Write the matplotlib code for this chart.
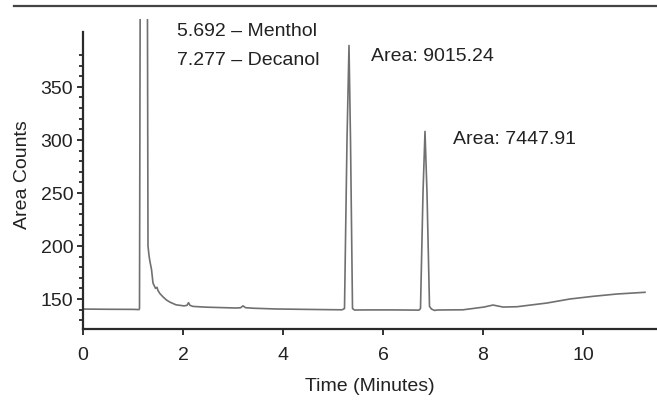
#!/usr/bin/env python3
import matplotlib
matplotlib.use('Agg')
import matplotlib.pyplot as plt
from matplotlib.lines import Line2D
from matplotlib.ticker import FixedLocator

# chromatogram trace (minutes, area counts)
time_min = [0.0, 0.5, 1.0, 1.12, 1.13, 1.17, 1.26, 1.30, 1.32, 1.34, 1.37,
            1.40, 1.45, 1.48, 1.50, 1.54, 1.60, 1.67, 1.74, 1.86, 2.02,
            2.08, 2.11, 2.14, 2.20, 2.45, 2.68, 3.05, 3.15, 3.20, 3.25,
            3.40, 3.84, 4.30, 4.80, 5.18, 5.23, 5.28, 5.32, 5.35, 5.39,
            5.43, 5.70, 6.20, 6.72, 6.75, 6.80, 6.84, 6.88, 6.93, 6.97,
            7.03, 7.08, 7.30, 7.60, 8.02, 8.20, 8.40, 8.68, 9.28, 9.74,
            10.20, 10.68, 11.24]
counts = [140.5, 140.3, 140.2, 140.0, 141.0, 1000.0, 1000.0, 200.0, 191.0, 185.0, 178.0,
          165.0, 160.0, 161.0, 158.0, 155.0, 152.0, 149.0, 147.0, 144.5, 143.5,
          144.0, 146.5, 144.0, 143.0, 142.3, 142.0, 141.5, 141.7, 143.5, 141.8,
          141.3, 140.6, 140.3, 140.0, 139.8, 141.0, 300.0, 389.0, 300.0, 141.0,
          139.6, 139.7, 139.7, 139.5, 141.0, 250.0, 308.0, 250.0, 143.0, 140.5,
          139.2, 139.6, 139.7, 139.8, 142.4, 144.3, 142.4, 142.7, 146.2, 150.0,
          152.5, 154.7, 156.3]

peak_labels = ['5.692 \u2013 Menthol', '7.277 \u2013 Decanol']
peak_label_pos = [(1.88, 403), (1.88, 375.5)]
area_labels = ['Area: 9015.24', 'Area: 7447.91']
area_pos = [(5.76, 380), (7.40, 301)]

x_ticks = [0, 2, 4, 6, 8, 10]
y_ticks = [150, 200, 250, 300, 350]
y_minor = list(range(130, 390, 10))


def main():
    plt.rcParams['font.family'] = ['Liberation Sans', 'DejaVu Sans']
    plt.rcParams['font.size'] = 14

    fig = plt.figure(figsize=(6.57, 4.02), dpi=100)
    ax = fig.add_axes([83 / 657, 1 - 330 / 402, 1 - 83 / 657, 310 / 402])

    ax.plot(time_min, counts, color='#707070', lw=1.2)

    ax.set_xlim(0, 11.48)
    ax.set_ylim(121.7, 414)

    for s in ['top', 'right']:
        ax.spines[s].set_visible(False)
    for s in ['left', 'bottom']:
        ax.spines[s].set_color('#2a2a2a')
        ax.spines[s].set_linewidth(1.6)
    ax.spines['left'].set_bounds(121.7, 402)

    ax.set_xticks(x_ticks)
    ax.set_yticks(y_ticks)
    ax.yaxis.set_minor_locator(FixedLocator([v for v in y_minor if v not in y_ticks]))
    ax.tick_params(axis='x', length=4, width=1.3, pad=8, colors='#222222')
    ax.tick_params(axis='y', which='major', length=4, width=1.3, pad=3, colors='#222222')
    ax.tick_params(axis='y', which='minor', length=3, width=1.3, colors='#2a2a2a')

    ax.set_xlabel('Time (Minutes)', labelpad=10, color='#222222')
    ax.set_ylabel('Area Counts', labelpad=7, color='#222222')

    for (x, y), lab in zip(peak_label_pos, peak_labels):
        ax.text(x, y, lab, color='#222222', va='center')
    for (x, y), lab in zip(area_pos, area_labels):
        ax.text(x, y, lab, color='#222222', va='center')

    # rule across the top of the figure
    fig.add_artist(Line2D([14 / 657, 1], [1 - 7 / 402, 1 - 7 / 402],
                          color='#444444', lw=1.6))

    plt.savefig('out.png', dpi=100)


if __name__ == "__main__":
    main()
